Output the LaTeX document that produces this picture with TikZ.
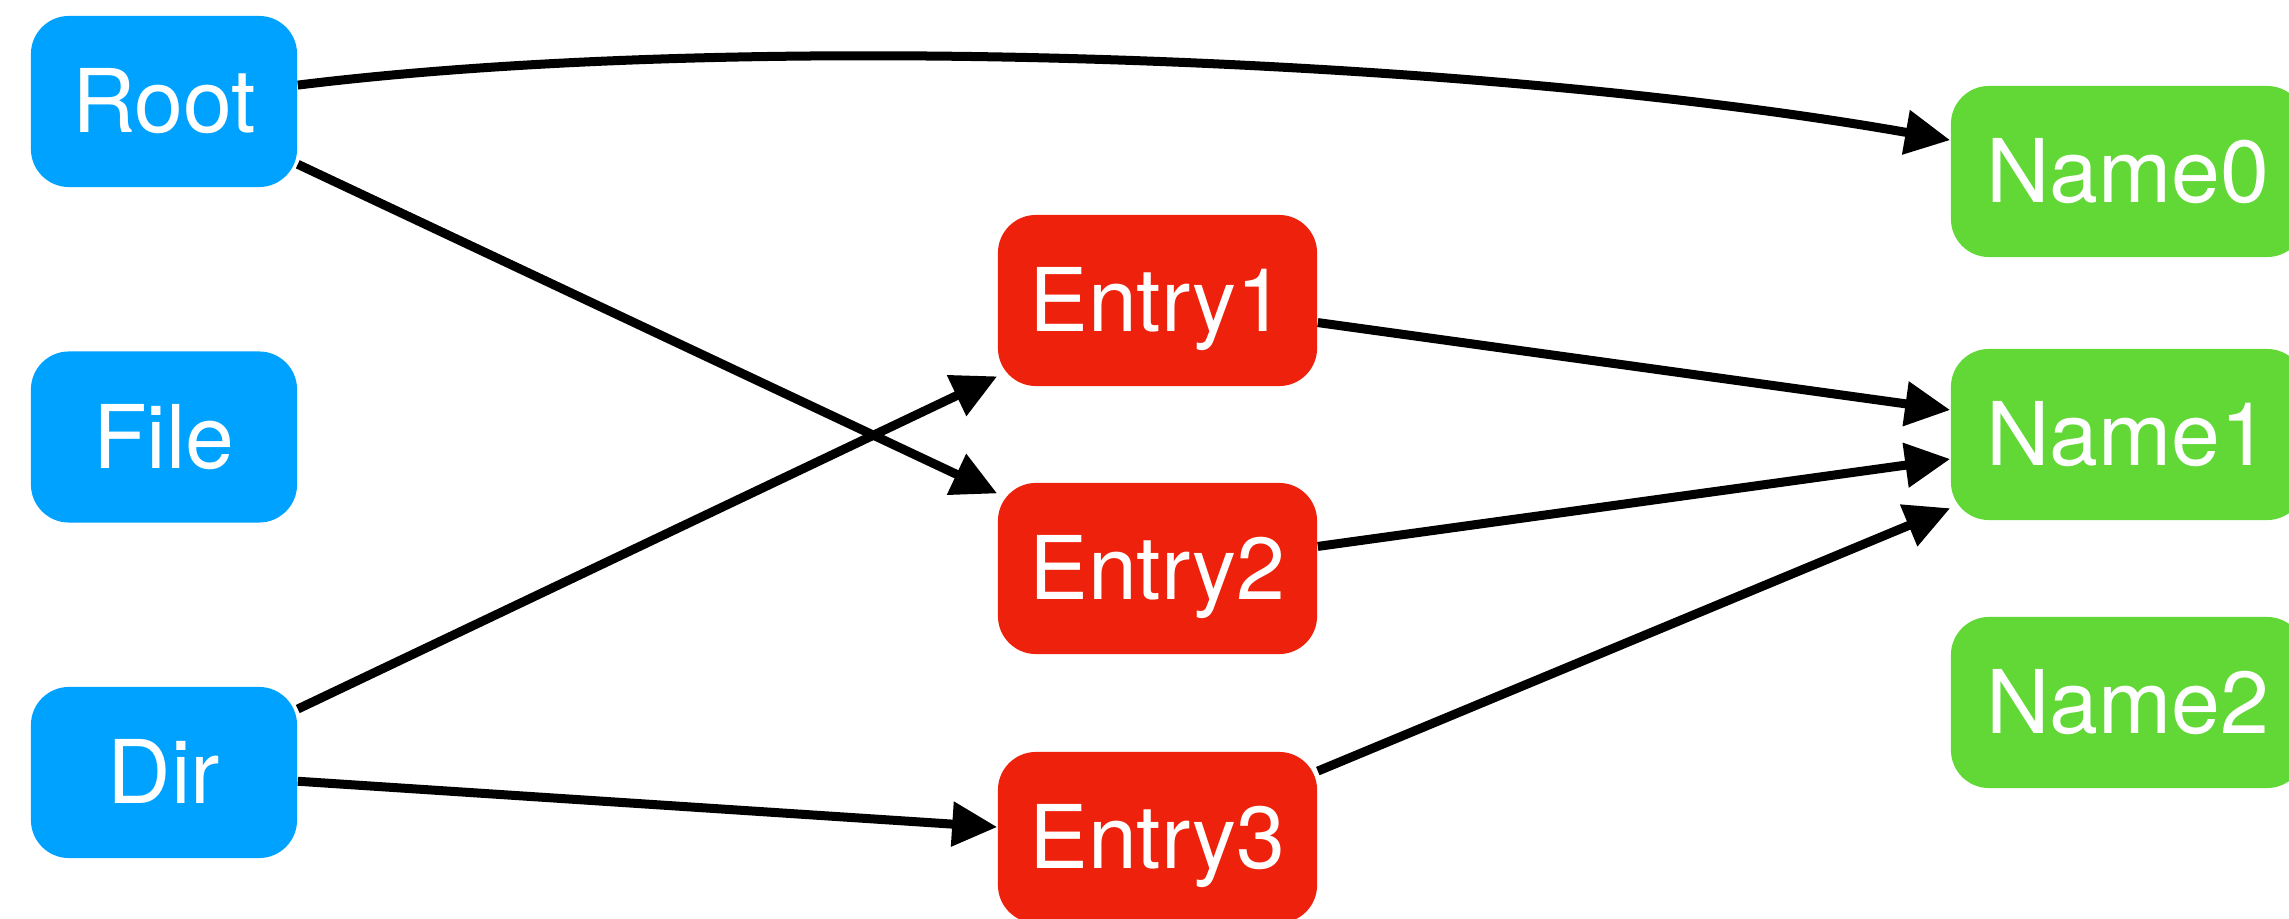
\documentclass[tikz,border=0pt]{standalone}
\usepackage{fontspec}
\setmainfont{TeX Gyre Heros}
\usepackage{tikz}
\usetikzlibrary{arrows.meta}
\tikzset{>={Triangle[length=4.5mm, width=4.3mm]}}

\definecolor{dirblue}{HTML}{00A2FF}
\definecolor{entryred}{HTML}{EE220C}
\definecolor{namegreen}{HTML}{61D836}

\tikzset{
	box/.style={rounded corners=3.8mm, inner sep=0pt, text=white, minimum height=17.1mm,
		text height=6.2mm, text depth=0pt, font=\fontsize{25}{29}\selectfont},
	dirbox/.style={box, fill=dirblue, minimum width=26.6mm},
	entrybox/.style={box, fill=entryred, minimum width=31.9mm},
	namebox/.style={box, fill=namegreen, minimum width=35.4mm},
	link/.style={->, black, line width=0.9mm}
}

\begin{document}
\begin{tikzpicture}[x=0.01cm, y=-0.01cm]
	\useasboundingbox (0,0) rectangle (2289,919);
	\clip (0,0) rectangle (2289,919);

	% left column
	\node[dirbox] (root) at (164,101.5) {Root};
	\node[dirbox] (file) at (164,437) {File};
	\node[dirbox] (dir) at (164,772.5) {Dir};

	% entries
	\node[entrybox] (entry1) at (1157.5,300.5) {Entry1};
	\node[entrybox] (entry2) at (1157.5,568.5) {Entry2};
	\node[entrybox] (entry3) at (1157.5,837.5) {Entry3};

	% names
	\node[namebox] (name0) at (2128,171.5) {Name0};
	\node[namebox] (name1) at (2128,434.5) {Name1};
	\node[namebox] (name2) at (2128,702.5) {Name2};

	\draw[link] (root) to[out=7, in=170, looseness=0.72] (name0);
	\draw[link] (root) -- (entry2);
	\draw[link] (dir) -- (entry1);
	\draw[link] (dir) -- (entry3);
	\draw[link] (entry1) -- (name1);
	\draw[link] (entry2) -- (name1);
	\draw[link] (entry3) -- (name1);
\end{tikzpicture}
\end{document}
